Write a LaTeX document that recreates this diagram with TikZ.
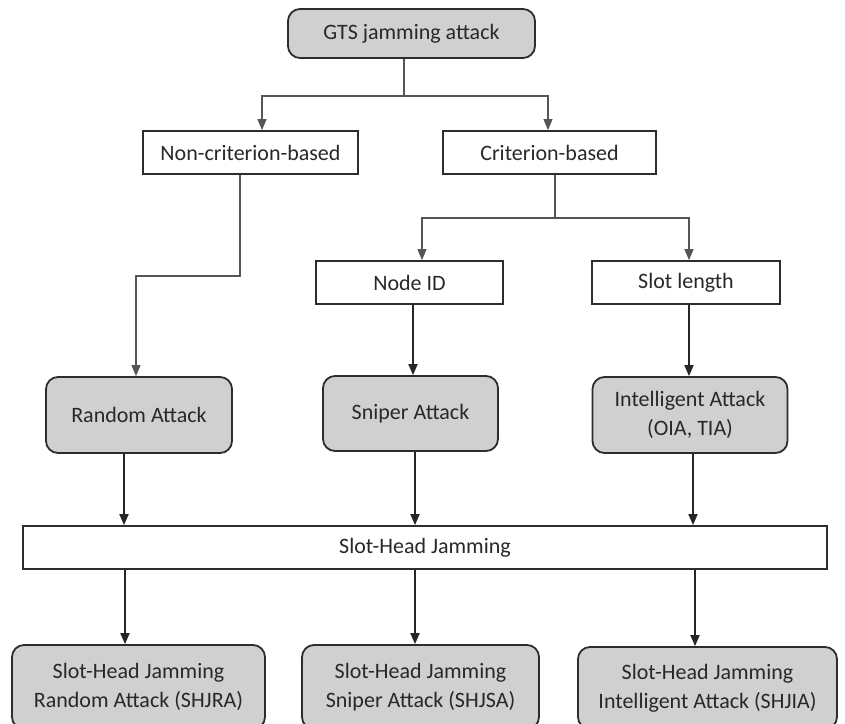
\documentclass[tikz,border=0pt]{standalone}
\usepackage{fontspec}
\setmainfont{Carlito}
\usetikzlibrary{arrows.meta}
\definecolor{boxgray}{RGB}{208,208,208}
\definecolor{edgecol}{RGB}{45,45,45}
\definecolor{txtcol}{RGB}{40,40,40}
\definecolor{thincol}{RGB}{85,85,85}
\begin{document}
\begin{tikzpicture}[x=1pt,y=-1pt,
  font=\fontsize{22}{29}\selectfont, text=txtcol,
  plainbox/.style={draw=edgecol, line width=1.8pt, fill=white, inner sep=0pt, align=center},
  graybox/.style={draw=edgecol, line width=1.8pt, fill=boxgray, rounded corners=12pt, inner sep=0pt, align=center},
  thinarr/.style={draw=thincol, line width=1.1pt, -{Triangle[length=11pt,width=9pt]}},
  thinline/.style={draw=thincol, line width=1.1pt},
  thickarr/.style={draw=black!85, line width=1.8pt, -{Triangle[length=11pt,width=9pt]}}]
\clip (0,0) rectangle (845,723);
\fill[white] (0,0) rectangle (845,723);

% upper levels
\node[graybox, minimum width=247pt, minimum height=49pt] (gts) at (411.5,33.5) {GTS jamming attack};
\node[plainbox, minimum width=215pt, minimum height=43pt] (noncrit) at (250.5,152.5) {Non-criterion-based};
\node[plainbox, minimum width=213pt, minimum height=43pt] (crit) at (549.5,152.5) {Criterion-based};
\node[plainbox, minimum width=187pt, minimum height=43pt] (nodeid) at (409.5,282.5) {Node ID};
\node[plainbox, minimum width=188pt, minimum height=43pt] (slotlen) at (686,282.5) {Slot length};

% attack types
\node[graybox, minimum width=186pt, minimum height=76pt] (random) at (139,415) {Random Attack};
\node[graybox, minimum width=175pt, minimum height=75pt] (sniper) at (410.5,413.5) {\raisebox{-4pt}{Sniper Attack}};
\node[graybox, minimum width=195pt, minimum height=76pt] (intel) at (690,415) {Intelligent Attack\\(OIA, TIA)};

% slot-head jamming bar
\node[plainbox, minimum width=804pt, minimum height=43pt] (shj) at (425,547.5) {Slot-Head Jamming};

% combined attacks
\node[graybox, minimum width=253pt, minimum height=84pt] (shjra) at (138.5,687) {Slot-Head Jamming\\Random Attack (SHJRA)};
\node[graybox, minimum width=237pt, minimum height=84pt] (shjsa) at (420.5,687) {Slot-Head Jamming\\Sniper Attack (SHJSA)};
\node[graybox, minimum width=259pt, minimum height=82pt] (shjia) at (707.5,688) {Slot-Head Jamming\\Intelligent Attack (SHJIA)};

% column positions of the vertical connectors
\coordinate (cA) at (124,0);
\coordinate (cB) at (415,0);
\coordinate (cC) at (693,0);
\coordinate (dA) at (125,0);
\coordinate (dB) at (415,0);
\coordinate (dC) at (695,0);

% top split
\coordinate (s1) at (404,96);
\draw[thinline] ([xshift=-7.5pt]gts.south) -- (s1);
\draw[thinarr] (s1) -| ([xshift=11.5pt]noncrit.north);
\draw[thinarr] (s1) -| ([xshift=-1.5pt]crit.north);

% non-criterion branch
\coordinate (s2) at (240,276);
\draw[thinarr] ([xshift=-10.5pt]noncrit.south) -- (s2) -| ([xshift=-3pt]random.north);

% criterion split
\coordinate (s3) at (555,218);
\draw[thinline] ([xshift=5.5pt]crit.south) -- (s3);
\draw[thinarr] (s3) -| ([xshift=12.5pt]nodeid.north);
\draw[thinarr] (s3) -| ([xshift=3pt]slotlen.north);

% criteria to attacks
\draw[thickarr] ([xshift=3.5pt]nodeid.south) -- ([xshift=2.5pt]sniper.north);
\draw[thickarr] ([xshift=3pt]slotlen.south) -- ([xshift=-1pt]intel.north);

% attacks to slot-head jamming
\draw[thickarr] (random.south -| cA) -- (shj.north -| cA);
\draw[thickarr] (sniper.south -| cB) -- (shj.north -| cB);
\draw[thickarr] (intel.south -| cC) -- (shj.north -| cC);

% slot-head jamming to combined attacks
\draw[thickarr] (shj.south -| dA) -- (shjra.north -| dA);
\draw[thickarr] (shj.south -| dB) -- (shjsa.north -| dB);
\draw[thickarr] (shj.south -| dC) -- (shjia.north -| dC);
\end{tikzpicture}
\end{document}
